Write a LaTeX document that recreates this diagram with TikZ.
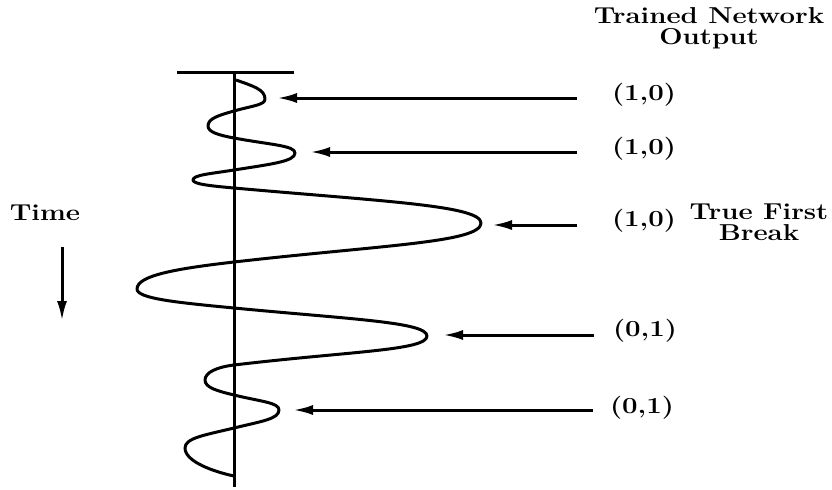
\documentclass[tikz,border=0pt]{standalone}
\usepackage{tikz}
\usetikzlibrary{arrows.meta}

\newcommand{\labfont}{\fontsize{11.5}{10.5}\selectfont\bfseries}
\newcommand{\wide}[1]{\scalebox{1.2}[1]{#1}}

\begin{document}
\begin{tikzpicture}[x=0.5pt,y=-0.5pt,line width=1.5pt,
  lbl/.style={font=\labfont,inner sep=0pt},
  ptr/.style={-{Latex[length=10pt,width=5pt]}}]
  \useasboundingbox (0,0) rectangle (832,489);

  % trace axis
  \coordinate (L) at (177,72);
  \coordinate (R) at (294,72);
  \coordinate (A) at (234,72);
  \coordinate (B) at (234,487);
  \draw (L) -- (R);
  \draw (A) -- (B);

  % seismic wavelet, peaks k1..k10
  \coordinate (k1) at (265,99);  \coordinate (k2) at (208,126);
  \coordinate (k3) at (295,153); \coordinate (k4) at (193,180);
  \coordinate (k5) at (481,223); \coordinate (k6) at (137,289);
  \coordinate (k7) at (427,336); \coordinate (k8) at (205,380);
  \coordinate (k9) at (279,410); \coordinate (k10) at (185,448);
  \draw[line join=round] (236,80)
    .. controls (253,86) and (265,89.5) .. (k1)
    .. controls (265,105) and (252.6,105.7) .. (234,111)
    .. controls (218.4,115.4) and (208,118.5) .. (k2)
    .. controls (208,132) and (218.4,135.1) .. (234,138)
    .. controls (270.6,144.8) and (295,145.5) .. (k3)
    .. controls (295,161.5) and (270.6,164.2) .. (234,170)
    .. controls (209.4,173.9) and (193,175) .. (k4)
    .. controls (193,184) and (209.4,185.8) .. (234,188)
    .. controls (382.2,201.3) and (481,205.5) .. (k5)
    .. controls (481,242.5) and (382.2,245) .. (234,262)
    .. controls (175.8,268.7) and (137,275.5) .. (k6)
    .. controls (137,298.5) and (175.8,302.4) .. (234,308)
    .. controls (349.8,319.2) and (427,322) .. (k7)
    .. controls (427,350.5) and (349.8,351.2) .. (234,365)
    .. controls (216.6,367.1) and (205,372.5) .. (k8)
    .. controls (205,387.5) and (216.6,390.8) .. (234,395)
    .. controls (261,401.6) and (279,402.5) .. (k9)
    .. controls (279,419) and (261,421.4) .. (234,428)
    .. controls (204.6,435.1) and (185,438) .. (k10)
    .. controls (185,462) and (215,472) .. (234,476);

  % time direction
  \node[lbl] (time) at (45,213) {\wide{Time}};
  \coordinate (d0) at (62,247);
  \coordinate (d1) at (62,321);
  \draw[ptr] (d0) -- (d1);

  % network outputs
  \node[lbl,align=center] (title) at (709,28)
    {\wide{Trained Network}\\\wide{Output}};

  \node[lbl] (o1) at (644,95) {\wide{(1,0)}};
  \coordinate (t1) at (577,98);
  \coordinate (h1) at (277,98);
  \draw[ptr] (t1) -- (h1);

  \node[lbl] (o2) at (644,149) {\wide{(1,0)}};
  \coordinate (t2) at (577,152);
  \coordinate (h2) at (310,152);
  \draw[ptr] (t2) -- (h2);

  \node[lbl] (o3) at (644,221) {\wide{(1,0)}};
  \coordinate (t3) at (577,225);
  \coordinate (h3) at (492,225);
  \draw[ptr] (t3) -- (h3);
  \node[lbl,align=center] (tfb) at (759,222)
    {\wide{True First}\\\wide{Break}};

  \node[lbl] (o4) at (645,331) {\wide{(0,1)}};
  \coordinate (t4) at (594,335);
  \coordinate (h4) at (443,335);
  \draw[ptr] (t4) -- (h4);

  \node[lbl] (o5) at (642,408) {\wide{(0,1)}};
  \coordinate (t5) at (593,410);
  \coordinate (h5) at (293,410);
  \draw[ptr] (t5) -- (h5);
\end{tikzpicture}
\end{document}
